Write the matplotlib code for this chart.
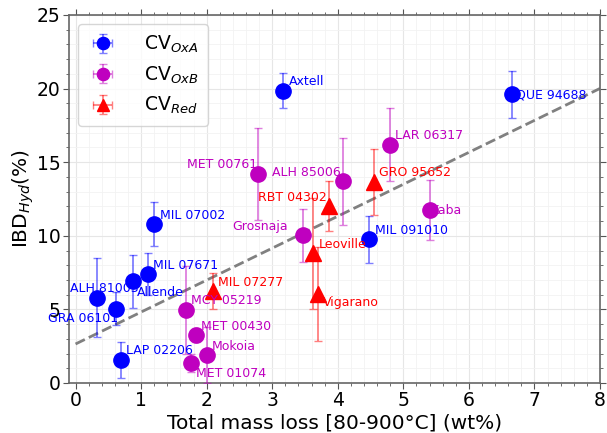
import numpy as np
import matplotlib
matplotlib.use('Agg')
import matplotlib.pyplot as plt
from matplotlib.ticker import MultipleLocator

# CV-OxA group
oxa_names = ['ALH 81003', 'GRA 06101', 'Allende', 'MIL 07671', 'MIL 07002',
             'LAP 02206', 'Axtell', 'MIL 091010', 'QUE 94688']
oxa_x = [0.32, 0.62, 0.88, 1.11, 1.19, 0.70, 3.16, 4.47, 6.65]
oxa_y = [5.8, 5.05, 6.9, 7.4, 10.8, 1.56, 19.85, 9.75, 19.6]
oxa_err = [2.7, 1.1, 1.8, 1.4, 1.5, 1.2, 1.2, 1.6, 1.6]

# CV-OxB group
oxb_names = ['MCY 05219', 'MET 00430', 'MET 01074', 'Mokoia', 'MET 00761',
             'Grosnaja', 'ALH 85006', 'LAR 06317', 'Kaba']
oxb_x = [1.69, 1.84, 1.76, 2.00, 2.78, 3.47, 4.08, 4.80, 5.41]
oxb_y = [4.96, 3.26, 1.36, 1.9, 14.2, 10.05, 13.7, 16.2, 11.75]
oxb_err = [3.0, 0.5, 0.6, 1.9, 3.1, 1.8, 2.95, 2.45, 2.05]

# CV-Red group
red_names = ['MIL 07277', 'RBT 04302', 'Leoville', 'Vigarano', 'GRO 95652']
red_x = [2.10, 3.86, 3.62, 3.70, 4.56]
red_y = [6.25, 12.0, 8.8, 6.05, 13.65]
red_err = [1.25, 1.7, 3.75, 3.2, 2.25]

# linear fit shown as dashed line
fit_slope = 2.17
fit_intercept = 2.65

# label offsets in pixels (dx, dy, ha)
label_offsets = {
    'ALH 81003': (-27, 9, 'left'), 'GRA 06101': (-68, -10, 'left'),
    'Allende': (4, -11, 'left'), 'MIL 07671': (5, 9, 'left'),
    'MIL 07002': (6, 9, 'left'), 'LAP 02206': (5, 10, 'left'),
    'Axtell': (6, 9, 'left'), 'MIL 091010': (6, 9, 'left'),
    'QUE 94688': (5, -1, 'left'), 'MCY 05219': (5, 9, 'left'),
    'MET 00430': (5, 9, 'left'), 'MET 01074': (5, -11, 'left'),
    'Mokoia': (5, 9, 'left'), 'MET 00761': (-1, 9, 'right'),
    'Grosnaja': (-15, 9, 'right'), 'ALH 85006': (-2, 9, 'right'),
    'LAR 06317': (5, 9, 'left'), 'Kaba': (1, 0, 'left'),
    'MIL 07277': (5, 9, 'left'), 'RBT 04302': (-2, 9, 'right'),
    'Leoville': (6, 9, 'left'), 'Vigarano': (5, -9, 'left'),
    'GRO 95652': (5, 10, 'left'),
}

fig = plt.figure(figsize=(6.07, 4.33), dpi=100)
ax = fig.add_axes([69 / 607, 50 / 433, 531 / 607, 368 / 433])

groups = [
    (oxa_names, oxa_x, oxa_y, oxa_err, 'blue', 'o', r'CV$_{OxA}$'),
    (oxb_names, oxb_x, oxb_y, oxb_err, 'm', 'o', r'CV$_{OxB}$'),
    (red_names, red_x, red_y, red_err, 'red', '^', r'CV$_{Red}$'),
]

xfit = np.array([0, 8])
ax.plot(xfit, fit_intercept + fit_slope * xfit, color='gray', linestyle='--',
        linewidth=2, zorder=1)

for names, xs, ys, errs, col, mk, lab in groups:
    eb = ax.errorbar(xs, ys, yerr=errs, xerr=0.02, fmt=mk, color=col,
                     markersize=11, ecolor=col, elinewidth=1.3, capsize=3,
                     label=lab, zorder=3)
    for art in eb[1] + eb[2]:
        art.set_alpha(0.5)
    for n, x, y in zip(names, xs, ys):
        dx, dy, ha = label_offsets[n]
        ax.annotate(n, (x, y), xytext=(dx, dy), textcoords='offset pixels',
                    ha=ha, va='center', color=col, fontsize=9, zorder=4)

ax.set_xlim(-0.1, 8)
ax.set_ylim(0, 25)
ax.xaxis.set_major_locator(MultipleLocator(1))
ax.xaxis.set_minor_locator(MultipleLocator(0.2))
ax.yaxis.set_major_locator(MultipleLocator(5))
ax.yaxis.set_minor_locator(MultipleLocator(1))
ax.grid(True, which='major', color='#e6e6e6', linewidth=0.8)
ax.grid(True, which='minor', color='#f2f2f2', linewidth=0.6)
ax.set_axisbelow(True)
ax.tick_params(axis='both', which='major', labelsize=13.5, length=4,
               pad=2, color='#555555')
ax.tick_params(axis='both', which='minor', length=2, color='#555555')
ax.tick_params(axis='both', which='both', top=True, right=True)
for s in ax.spines.values():
    s.set_color('#666666')
    s.set_linewidth(1.2)

ax.set_xlabel('Total mass loss [80-900°C] (wt%)', fontsize=14.5, labelpad=2)
ax.set_ylabel(r'IBD$_{Hyd}$(%)', fontsize=14.5, labelpad=1)
ax.legend(loc='upper left', fontsize=13.5, handlelength=1.6, handletextpad=1.4,
          borderpad=0.5, labelspacing=0.5, markerscale=0.8)

fig.savefig('out.png', dpi=100)
